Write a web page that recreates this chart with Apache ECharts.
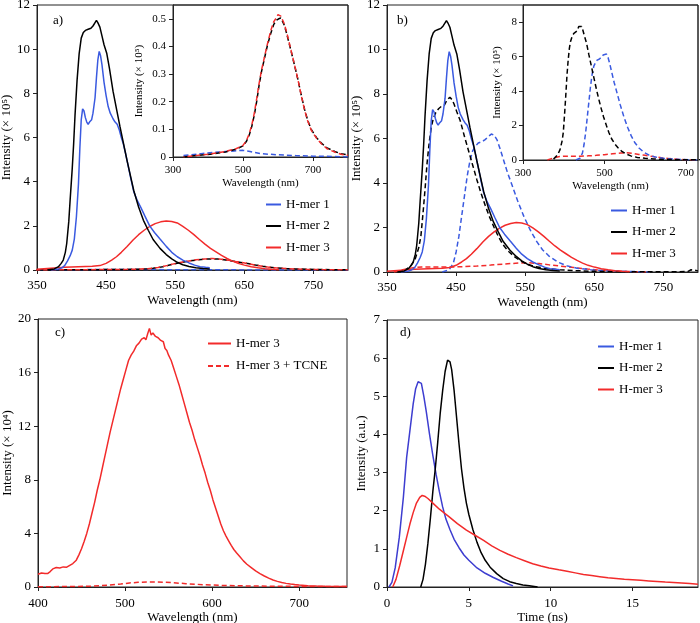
<!DOCTYPE html>
<html><head><meta charset="utf-8">
<script src="https://cdn.jsdelivr.net/npm/echarts@6/dist/echarts.min.js"></script>
<style>html,body{margin:0;padding:0;background:#fff}#c{width:700px;height:623px}</style>
</head><body><div id="c"></div><script>
// ---------- DATA ----------
// Panels a) and b): steady-state emission, Intensity (x10^5) vs Wavelength (nm)
const hmer1Solid = [[370,0],[380,0.03],[386,0.1],[390,0.2],[394,0.4],[398,0.65],[401,0.9],[404,1.4],[407,2.4],[410,3.9],[412,5.5],[414,6.8],[416,7.3],[418,7.2],[420,6.9],[422,6.7],[424,6.6],[426,6.7],[429,6.8],[431,7.1],[434,7.8],[436,8.7],[438,9.5],[440,9.9],[442,9.7],[444,9.3],[447,8.5],[450,7.9],[453,7.4],[456,7.1],[460,6.85],[463,6.7],[466,6.6],[469,6.35],[472,6.0],[475,5.7],[478,5.3],[482,4.7],[486,4.1],[490,3.55],[495,3.15],[500,2.85],[506,2.45],[513,2.0],[520,1.7],[528,1.4],[537,1.07],[545,0.8],[553,0.6],[561,0.45],[570,0.32],[578,0.22],[586,0.15],[594,0.12],[600,0.1]];
const hmer2Solid = [[365,0],[375,0.05],[381,0.15],[385,0.3],[388,0.45],[391,0.8],[393,1.2],[396,2.2],[398,3.2],[401,4.6],[403,5.7],[405,7.0],[408,8.6],[411,9.8],[414,10.5],[417,10.75],[420,10.85],[424,10.9],[428,10.95],[431,11.05],[434,11.2],[436,11.3],[438,11.2],[441,11.0],[444,10.6],[447,10.2],[451,9.8],[455,9.1],[460,8.1],[465,7.3],[470,6.5],[475,5.75],[480,5.0],[485,4.3],[490,3.6],[497,2.85],[504,2.25],[511,1.8],[518,1.38],[528,0.98],[537,0.7],[545,0.5],[553,0.35],[561,0.24],[570,0.16],[580,0.1],[590,0.07],[600,0.05]];
const hmer3Solid = [[350,0.03],[370,0.08],[390,0.12],[410,0.15],[430,0.17],[441,0.2],[450,0.3],[458,0.45],[465,0.6],[472,0.8],[480,1.05],[489,1.36],[497,1.6],[505,1.8],[513,1.97],[521,2.1],[529,2.18],[537,2.22],[545,2.2],[553,2.13],[561,1.98],[569,1.8],[577,1.6],[585,1.38],[593,1.17],[601,0.98],[609,0.82],[617,0.66],[625,0.52],[633,0.4],[641,0.3],[650,0.22],[660,0.15],[670,0.1],[680,0.06],[690,0.03],[700,0.01]];
// a) dashed curves (also shown in inset a)
const aDashRed = [[330,0],[350,0.003],[400,0.01],[450,0.02],[480,0.03],[500,0.042],[510,0.06],[518,0.085],[525,0.115],[532,0.157],[539,0.21],[546,0.266],[553,0.315],[561,0.36],[570,0.41],[580,0.46],[588,0.49],[596,0.505],[600,0.515],[604,0.52],[608,0.51],[612,0.505],[617,0.485],[623,0.46],[630,0.425],[637,0.387],[647,0.335],[657,0.28],[666,0.225],[676,0.17],[685,0.13],[695,0.097],[710,0.068],[724,0.048],[740,0.03],[762,0.018],[780,0.01],[800,0.006]];
const aDashBlack = [[330,0],[350,0.003],[400,0.009],[450,0.018],[480,0.028],[500,0.04],[510,0.057],[518,0.08],[525,0.11],[532,0.15],[539,0.2],[546,0.26],[553,0.31],[561,0.355],[570,0.405],[580,0.45],[588,0.48],[596,0.495],[602,0.5],[608,0.503],[612,0.498],[617,0.48],[623,0.455],[630,0.42],[637,0.385],[647,0.333],[657,0.28],[666,0.226],[676,0.172],[685,0.132],[695,0.1],[710,0.07],[724,0.05],[740,0.033],[762,0.02],[780,0.012],[800,0.008]];
const aDashBlue = [[330,0.005],[380,0.012],[430,0.018],[475,0.022],[500,0.024],[520,0.02],[550,0.012],[600,0.008],[650,0.005],[700,0.003],[760,0.002],[800,0]];
// b) dashed curves (also shown in inset b)
const bDashBlack = [[375,0.05],[385,0.3],[391,0.6],[396,1.1],[399,1.6],[402,2.6],[405,3.7],[408,4.9],[411,5.8],[414,6.5],[417,6.9],[421,7.2],[425,7.35],[429,7.45],[433,7.5],[437,7.75],[441,7.85],[444,7.75],[447,7.55],[451,7.2],[456,6.8],[462,6.1],[468,5.45],[474,4.8],[480,4.15],[486,3.55],[492,3.0],[498,2.5],[505,2.0],[511,1.6],[518,1.22],[526,0.92],[534,0.7],[542,0.52],[552,0.36],[565,0.24],[581,0.15],[600,0.1],[622,0.06],[650,0.03],[700,0.01],[760,0.01],[785,0.02],[790,0.1],[795,0.08],[800,0.05]];
const bDashBlue = [[430,0],[440,0.1],[446,0.4],[450,0.9],[454,1.6],[458,2.5],[462,3.4],[466,4.3],[470,5.0],[474,5.45],[478,5.65],[482,5.8],[487,5.85],[492,5.95],[497,6.1],[501,6.2],[505,6.15],[509,5.95],[513,5.6],[518,5.1],[524,4.5],[531,3.9],[539,3.2],[548,2.5],[557,1.9],[566,1.4],[575,1.0],[585,0.7],[597,0.45],[610,0.28],[625,0.17],[645,0.1],[665,0.06],[690,0.03],[720,0.01],[730,0]];
const bDashRed = [[360,0],[370,0.08],[380,0.15],[390,0.2],[400,0.22],[420,0.22],[440,0.22],[460,0.24],[480,0.27],[500,0.31],[520,0.36],[540,0.4],[555,0.42],[570,0.38],[585,0.32],[600,0.27],[620,0.2],[640,0.13],[660,0.08],[680,0.04],[700,0.02],[730,0]];
// c) Intensity (x10^4)
const cHmer3 = [[400,0.95],[404,1.05],[408,1.0],[411,1.0],[414,1.15],[417,1.35],[421,1.45],[425,1.42],[429,1.5],[433,1.48],[436,1.6],[440,1.75],[444,2.0],[447,2.4],[450,2.85],[453,3.4],[456,4.0],[459,4.7],[462,5.5],[465,6.3],[468,7.2],[471,8.0],[474,8.9],[477,9.8],[480,10.7],[483,11.6],[486,12.4],[489,13.2],[492,14.0],[495,14.8],[498,15.5],[501,16.2],[504,16.9],[507,17.3],[510,17.6],[513,18.0],[516,18.2],[519,18.5],[522,18.6],[524,18.45],[526,18.9],[528,19.3],[530,18.8],[532,18.95],[535,18.7],[538,18.6],[541,18.4],[544,18.3],[546,17.8],[548,17.65],[550,17.3],[553,16.9],[556,16.3],[559,15.7],[562,15.1],[565,14.4],[568,13.7],[571,13.0],[574,12.3],[577,11.7],[580,11.0],[583,10.4],[586,9.8],[589,9.1],[592,8.5],[595,7.8],[598,7.2],[601,6.5],[604,5.9],[607,5.3],[610,4.7],[613,4.2],[616,3.8],[619,3.45],[622,3.1],[625,2.8],[628,2.55],[632,2.25],[636,1.95],[640,1.7],[645,1.45],[650,1.2],[655,1.0],[660,0.82],[665,0.66],[670,0.52],[675,0.42],[680,0.34],[685,0.27],[690,0.22],[695,0.18],[700,0.15],[710,0.1],[720,0.07],[730,0.05],[740,0.04],[755,0.03]];
const cHmer3Tcne = [[400,0.02],[430,0.03],[460,0.06],[480,0.13],[495,0.22],[505,0.3],[515,0.35],[525,0.37],[535,0.38],[545,0.36],[555,0.32],[570,0.25],[590,0.17],[610,0.12],[640,0.08],[680,0.05],[720,0.04],[755,0.03]];
// d) time-resolved, Intensity (a.u.) vs Time (ns)
const dHmer1 = [[0.12,0],[0.3,0.12],[0.5,0.5],[0.75,1.3],[1.0,2.35],[1.2,3.4],[1.4,4.1],[1.6,4.8],[1.75,5.2],[1.9,5.38],[2.0,5.4],[2.1,5.34],[2.25,5.0],[2.4,4.6],[2.6,4.0],[2.8,3.45],[3.0,2.95],[3.2,2.5],[3.4,2.1],[3.6,1.78],[3.85,1.5],[4.1,1.25],[4.4,1.03],[4.7,0.84],[5.0,0.7],[5.5,0.5],[6.0,0.36],[6.5,0.25],[7.0,0.15],[7.4,0.08],[7.7,0.03]];
const dHmer2 = [[2.06,0],[2.2,0.2],[2.35,0.6],[2.5,1.15],[2.65,1.8],[2.8,2.5],[2.95,3.1],[3.1,3.8],[3.25,4.55],[3.4,5.15],[3.55,5.65],[3.7,5.95],[3.75,6.0],[3.85,5.9],[3.95,5.7],[4.1,5.15],[4.25,4.45],[4.4,3.75],[4.55,3.1],[4.7,2.6],[4.85,2.2],[5.0,1.9],[5.25,1.5],[5.5,1.17],[5.75,0.9],[6.0,0.7],[6.3,0.52],[6.7,0.35],[7.1,0.22],[7.5,0.14],[7.9,0.09],[8.3,0.05],[8.7,0.03],[9.2,0]];
const dHmer3 = [[0.35,0],[0.55,0.2],[0.77,0.55],[1.0,0.95],[1.2,1.3],[1.4,1.65],[1.6,1.95],[1.8,2.2],[2.0,2.35],[2.15,2.4],[2.3,2.38],[2.5,2.32],[2.8,2.2],[3.2,2.04],[3.8,1.84],[4.3,1.66],[4.85,1.49],[5.4,1.35],[5.9,1.22],[6.4,1.08],[6.9,0.96],[7.4,0.86],[7.9,0.77],[8.4,0.69],[8.9,0.61],[9.4,0.55],[9.9,0.5],[10.5,0.45],[11.0,0.41],[11.5,0.37],[12.0,0.33],[12.5,0.3],[13.0,0.27],[13.5,0.24],[14.0,0.22],[14.5,0.2],[15.0,0.19],[15.5,0.175],[16.0,0.16],[16.5,0.145],[17.0,0.13],[17.5,0.12],[18.0,0.105],[18.5,0.09],[19.0,0.075]];

const legendNames = ['H-mer 1','H-mer 2','H-mer 3'];
const legendNamesC = ['H-mer 3','H-mer 3 + TCNE'];
const panelLabels = ['a)','b)','c)','d)'];

// ---------- STYLE / LAYOUT ----------
const F = 'Liberation Serif, Times New Roman, serif';
const BLUE = '#3a5ae0', BLUE_D = '#3d3dd0', BLACK = '#000000', RED = '#f22b2b';
const DASH = [5,3];

function grid(left, top, width, height){
  return {left, top, width, height, show:true, borderColor:'#222', borderWidth:1, backgroundColor:'transparent', containLabel:false, outerBoundsMode:'none'};
}
function axis(gi, min, max, interval, name, fs, gap, margin, showMax){
  return {
    type:'value', gridIndex:gi, min, max, interval,
    name, nameLocation:'middle', nameGap:gap,
    nameTextStyle:{fontFamily:F, fontSize:fs, color:'#000'},
    axisLine:{show:true, onZero:false, lineStyle:{color:'#222', width:1}},
    axisTick:{show:true, inside:false, length:4, lineStyle:{color:'#222'}},
    splitLine:{show:false},
    axisLabel:{fontFamily:F, fontSize:fs, color:'#000', margin, showMaxLabel: showMax, showMinLabel:true}
  };
}
function line(name, data, xi, color, dashed, z, offset){
  return {name, type:'line', data, xAxisIndex:xi, yAxisIndex:xi, symbol:'none', showSymbol:false,
    lineStyle:{color, width:1.5, type: dashed ? DASH : 'solid', dashOffset: offset||0},
    itemStyle:{color}, z: z||2, silent:true, animation:false, clip:true};
}
function legend(left, top, data, iw, gap){
  return {left, top, orient:'vertical', data, itemWidth:iw, itemHeight:14, itemGap:gap, padding:0,
    itemStyle:{opacity:0},
    textStyle:{fontFamily:F, fontSize:13, color:'#000'}, selectedMode:false};
}

const option = {
  backgroundColor:'#fff', animation:false,
  grid:[grid(37,5,311,265), grid(173,5,175,152), grid(387,5,311,267), grid(523,5,175,155), grid(38,319,309,268), grid(387,320,311,267)],
  xAxis:[
    axis(0,350,800,100,'Wavelength (nm)',13,24,9,false),
    axis(1,300,800,200,'Wavelength (nm)',11,21,8,false),
    axis(2,350,800,100,'Wavelength (nm)',13,24,9,false),
    axis(3,300,730,200,'Wavelength (nm)',11,21,8,false),
    axis(4,400,755,100,'Wavelength (nm)',13,22,10,false),
    axis(5,0,19,5,'Time (ns)',13,22,10,false)
  ],
  yAxis:[
    axis(0,0,12,2,'Intensity (× 10⁵)',13,18,7,true),
    axis(1,0,0.55,0.1,'Intensity (× 10⁵)',11,28,7,false),
    axis(2,0,12,2,'Intensity (× 10⁵)',13,19,7,true),
    axis(3,0,9,2,'Intensity (× 10⁵)',11,20,6,false),
    axis(4,0,20,4,'Intensity (× 10⁴)',13,24,7,true),
    axis(5,0,7,1,'Intensity (a.u.)',13,19,7,true)
  ],
  legend:[legend(265,198,legendNames,15,8.5), legend(610,204,legendNames,16,8.5), legend(207,337,legendNamesC,23,9.5), legend(597,340,legendNames,16,8.5)],
  graphic:[
    {type:'text', left:53, top:14, style:{text:panelLabels[0], font:'13px '+F, fill:'#000'}},
    {type:'text', left:397, top:14, style:{text:panelLabels[1], font:'13px '+F, fill:'#000'}},
    {type:'text', left:55, top:326, style:{text:panelLabels[2], font:'13px '+F, fill:'#000'}},
    {type:'text', left:400, top:326, style:{text:panelLabels[3], font:'13px '+F, fill:'#000'}}
  ],
  series:[
    // a main
    line('a-dash-blue', aDashBlue, 0, BLUE, true),
    line('a-dash-black', aDashBlack, 0, BLACK, true),
    line('a-dash-red', aDashRed, 0, RED, true, 2, 4),
    line('H-mer 3', hmer3Solid, 0, RED, false),
    line('H-mer 1', hmer1Solid, 0, BLUE, false),
    line('H-mer 2', hmer2Solid, 0, BLACK, false),
    // a inset
    line('ai-dash-blue', aDashBlue, 1, BLUE, true),
    line('ai-dash-black', aDashBlack, 1, BLACK, true),
    line('ai-dash-red', aDashRed, 1, RED, true, 2, 4),
    // b main
    line('b-dash-red', bDashRed, 2, RED, true),
    line('b-dash-blue', bDashBlue, 2, BLUE, true),
    line('b-dash-black', bDashBlack, 2, BLACK, true),
    line('H-mer 3', hmer3Solid, 2, RED, false),
    line('H-mer 1', hmer1Solid, 2, BLUE, false),
    line('H-mer 2', hmer2Solid, 2, BLACK, false),
    // b inset
    line('bi-dash-red', bDashRed, 3, RED, true),
    line('bi-dash-blue', bDashBlue, 3, BLUE, true),
    line('bi-dash-black', bDashBlack, 3, BLACK, true),
    // c
    line('H-mer 3', cHmer3, 4, RED, false),
    line('H-mer 3 + TCNE', cHmer3Tcne, 4, RED, true),
    // d
    line('H-mer 1', dHmer1, 5, BLUE_D, false),
    line('H-mer 2', dHmer2, 5, BLACK, false),
    line('H-mer 3', dHmer3, 5, RED, false)
  ]
};
const chart = echarts.init(document.getElementById('c'), null, {renderer:'canvas', width:700, height:623});
chart.setOption(option);
</script></body></html>
